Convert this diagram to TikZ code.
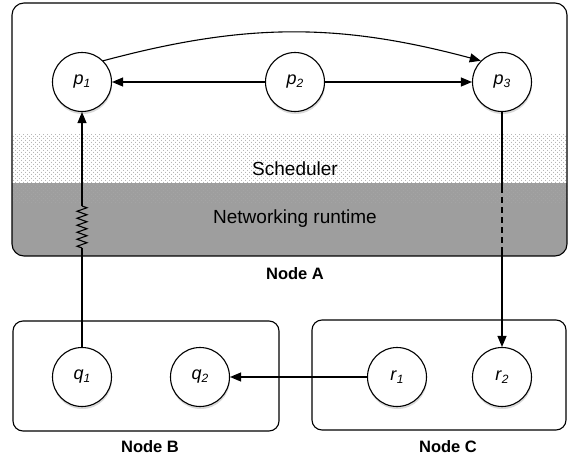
\documentclass[tikz,border=0pt]{standalone}
\usepackage{fontspec}
\setmainfont{Liberation Sans}
\usetikzlibrary{arrows.meta,patterns.meta,shadows,decorations.pathmorphing}
\newcommand{\plab}[2]{\textit{#1}\raisebox{-3pt}{\fontsize{12}{12}\selectfont\textit{#2}}}
\begin{document}
\begin{tikzpicture}[x=1pt,y=-1pt,
  proc/.style={circle,draw,line width=1.1pt,fill=white,minimum size=59pt,inner sep=0pt,
    font=\fontsize{18}{18}\selectfont,
    drop shadow={opacity=0.3,shadow xshift=0.5pt,shadow yshift=-2.5pt}},
  conn/.style={line width=1.1pt},
  arr/.style={conn,-{Triangle[length=11pt,width=9pt]}},
  box/.style={draw,line width=1.1pt,rounded corners=12pt},
  title/.style={font=\bfseries\fontsize{16.5}{16.5}\selectfont},
  band/.style={font=\fontsize{19}{19}\selectfont}
]
\useasboundingbox (0,0) rectangle (568,458);
\begin{scope}
  \clip[rounded corners=12pt] (12,3) rectangle (567,256);
  \fill[fill={rgb,255:red,158;green,158;blue,158}] (12,183) rectangle (567,256);
  \fill[pattern={Dots[distance=4pt,radius=0.6pt]},pattern color=black!35] (12,134) rectangle (567,203);
  \fill[pattern={Dots[distance=4pt,radius=0.6pt,xshift=2pt,yshift=2pt]},pattern color=black!35] (12,134) rectangle (567,203);
\end{scope}
\draw[box] (12,3) rectangle (567,256);
\draw[box,rounded corners=10pt] (13,321) rectangle (279,431);
\draw[box,rounded corners=10pt] (312,320) rectangle (566,430);

\node[band] (sch) at (295,169) {Scheduler};
\node[band] (net) at (295,219) {Networking runtime};
\node[title] (na) at (295,274) {Node A};
\node[title] (nb) at (150,447) {Node B};
\node[title] (nc) at (448,447) {Node C};

\node[proc] (p1) at (82,82) {\plab{p}{1}};
\node[proc] (p2) at (295,82) {\plab{p}{2}};
\node[proc] (p3) at (502,82) {\plab{p}{3}};
\node[proc] (q1) at (82,377) {\plab{q}{1}};
\node[proc] (q2) at (200,377) {\plab{q}{2}};
\node[proc] (r1) at (397,377) {\plab{r}{1}};
\node[proc] (r2) at (502,377) {\plab{r}{2}};

\draw[arr] (p2) -- (p1);
\draw[arr] (p2) -- (p3);
\draw[arr] (p1.45) to[out=15,in=165] (p3.135);

\coordinate (sb) at (82,248);
\coordinate (st) at (82,206);
\draw[conn] (q1.north) -- (sb);
\draw[conn,decorate,decoration={zigzag,segment length=7pt,amplitude=5pt}] (sb) -- (st);
\draw[arr] (st) -- (p1.south);

\coordinate (d1) at (502,187);
\coordinate (d2) at (502,247);
\draw[conn] (p3.south) -- (d1);
\draw[conn,dash pattern=on 6pt off 4pt] (d1) -- (d2);
\draw[arr] (d2) -- (r2.north);

\draw[arr] (r1) -- (q2);
\end{tikzpicture}
\end{document}
